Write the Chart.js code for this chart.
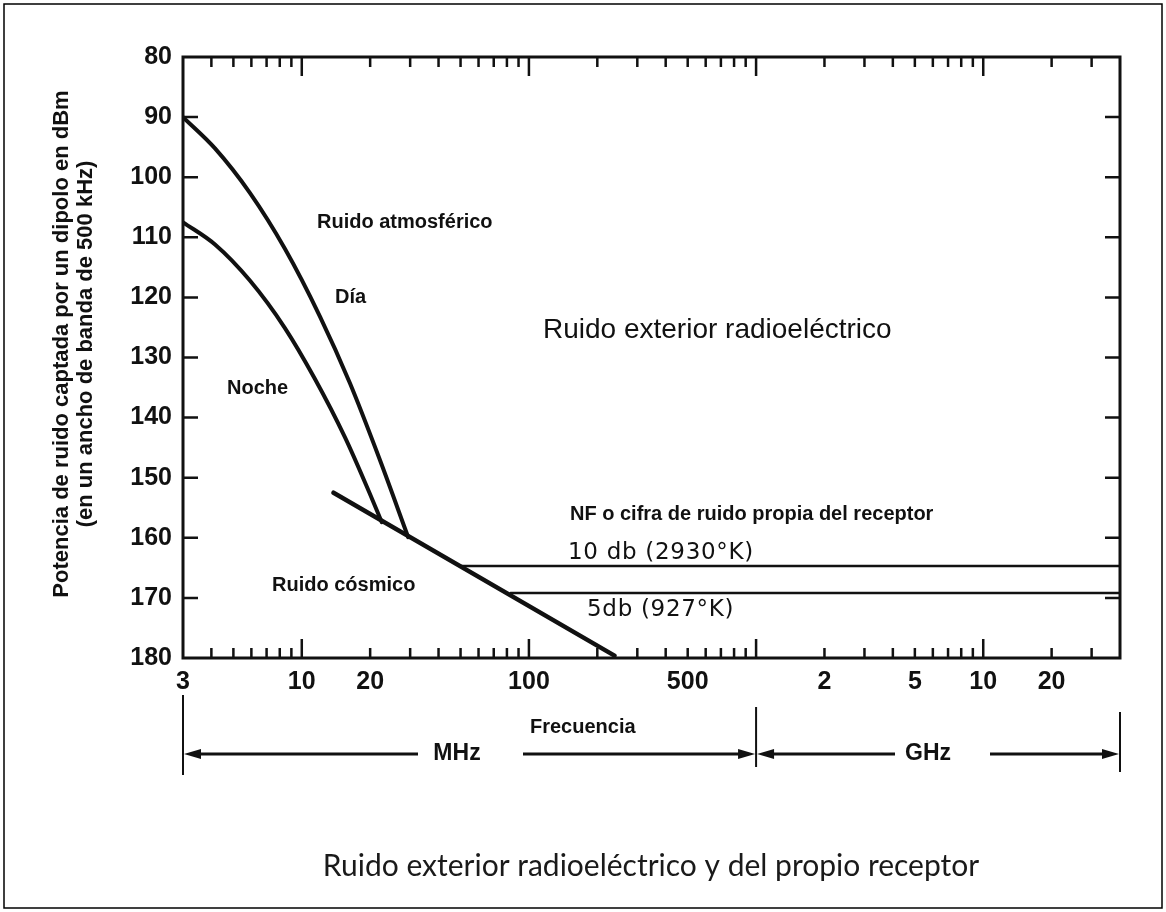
<!DOCTYPE html>
<html>
<head>
<meta charset="utf-8">
<script src="https://cdn.jsdelivr.net/npm/chart.js@4.4.1/dist/chart.umd.min.js"></script>
<style>
  html, body { margin: 0; padding: 0; background: #fff; }
  canvas { display: block; }
</style>
</head>
<body>
<canvas id="ruido" width="1166" height="912"></canvas>
<script>
// frecuencia en MHz, potencia en dBm (eje invertido)
const diaFreq = [3, 4.15, 5.91, 8.43, 12.0, 16.3, 22.0, 29.4];
const diaDbm = [90, 95.2, 102.6, 111.9, 123.1, 134.3, 146.9, 159.9];
const nocheFreq = [3, 4.15, 5.91, 8.43, 11.4, 15.5, 19.9, 22.5];
const nocheDbm = [107.5, 111.2, 117.2, 125.1, 133.5, 143.3, 152.6, 157.4];
const cosmicoFreq = [13.8, 238];
const cosmicoDbm = [152.5, 179.6];
const nf10Freq = [50.3, 40000];
const nf10Dbm = [164.7, 164.7];
const nf5Freq = [83, 40000];
const nf5Dbm = [169.2, 169.2];

const xTickValues = [3, 10, 20, 100, 500, 2000, 5000, 10000, 20000];
const xTickLabels = ['3', '10', '20', '100', '500', '2', '5', '10', '20'];
const xMajorMarks = [10, 100, 1000, 10000];
const xMinorMarks = [4, 5, 6, 7, 8, 9, 20, 30, 40, 50, 60, 70, 80, 90,
  200, 300, 400, 500, 600, 700, 800, 900,
  2000, 3000, 4000, 5000, 6000, 7000, 8000, 9000, 20000, 30000];
const yMarks = [90, 100, 110, 120, 130, 140, 150, 160, 170];

const INK = '#111';
const tickFont = "'Liberation Sans Narrow', 'Arial Narrow', 'Liberation Sans', Arial, sans-serif";

const pts = (xs, ys) => xs.map((x, i) => ({ x: x, y: ys[i] }));

function arrow(ctx, from, to, y) {
  const dir = Math.sign(to - from);
  ctx.beginPath();
  ctx.moveTo(from, y);
  ctx.lineTo(to - dir * 10, y);
  ctx.stroke();
  ctx.beginPath();
  ctx.moveTo(to, y);
  ctx.lineTo(to - dir * 17, y - 5);
  ctx.lineTo(to - dir * 17, y + 5);
  ctx.closePath();
  ctx.fill();
}

const decor = {
  id: 'decor',
  afterDraw(chart) {
    const ctx = chart.ctx;
    const a = chart.chartArea;
    const xs = chart.scales.x, ys = chart.scales.y;
    ctx.save();
    ctx.strokeStyle = INK;
    ctx.fillStyle = INK;

    // marco del gráfico
    ctx.lineWidth = 3;
    ctx.strokeRect(a.left, a.top, a.right - a.left, a.bottom - a.top);

    // marcas hacia dentro
    ctx.lineWidth = 2.5;
    ctx.beginPath();
    yMarks.forEach(v => {
      const y = ys.getPixelForValue(v);
      ctx.moveTo(a.left, y); ctx.lineTo(a.left + 15, y);
      ctx.moveTo(a.right, y); ctx.lineTo(a.right - 15, y);
    });
    const xm = (v, len) => {
      const x = xs.getPixelForValue(v);
      ctx.moveTo(x, a.bottom); ctx.lineTo(x, a.bottom - len);
      ctx.moveTo(x, a.top); ctx.lineTo(x, a.top + len);
    };
    xMajorMarks.forEach(v => xm(v, 19));
    xMinorMarks.forEach(v => xm(v, 10));
    ctx.stroke();

    // rótulos internos
    ctx.textBaseline = 'middle';
    ctx.textAlign = 'left';
    ctx.font = "bold 20px 'Liberation Sans', Arial, sans-serif";
    ctx.fillText('Ruido atmosférico', 317, 222);
    ctx.fillText('Día', 335, 297);
    ctx.fillText('Noche', 227, 388);
    ctx.fillText('Ruido cósmico', 272, 585);
    ctx.fillText('NF o cifra de ruido propia del receptor', 570, 514);
    ctx.font = "28px 'Liberation Sans', Arial, sans-serif";
    ctx.fillText('Ruido exterior radioeléctrico', 543, 330);
    ctx.font = "23px 'DejaVu Sans', sans-serif";
    ctx.letterSpacing = '0.7px';
    ctx.fillText('10 db (2930°K)', 568, 553);
    ctx.fillText('5db (927°K)', 587, 610);
    ctx.letterSpacing = '0px';

    // título del eje vertical
    ctx.save();
    ctx.translate(62, 344);
    ctx.rotate(-Math.PI / 2);
    ctx.textAlign = 'center';
    ctx.font = "bold 22px 'Liberation Sans', Arial, sans-serif";
    ctx.fillText('Potencia de ruido captada por un dipolo en dBm', 0, 0);
    ctx.fillText('(en un ancho de banda de 500 kHz)', 0, 24);
    ctx.restore();

    // bandas de frecuencia
    const x3 = xs.getPixelForValue(3);
    const xG = xs.getPixelForValue(1000);
    const xE = xs.getPixelForValue(40000);
    ctx.lineWidth = 2;
    ctx.beginPath();
    ctx.moveTo(x3, 695); ctx.lineTo(x3, 775);
    ctx.moveTo(xG, 707); ctx.lineTo(xG, 767);
    ctx.moveTo(xE, 712); ctx.lineTo(xE, 772);
    ctx.stroke();
    ctx.lineWidth = 3;
    const ay = 754;
    arrow(ctx, 418, x3 + 1, ay);
    arrow(ctx, 523, xG - 1, ay);
    arrow(ctx, 895, xG + 1, ay);
    arrow(ctx, 990, xE - 1, ay);
    ctx.textAlign = 'center';
    ctx.font = "bold 23px 'Liberation Sans', Arial, sans-serif";
    ctx.fillText('MHz', 457, ay);
    ctx.fillText('GHz', 928, ay);
    ctx.textAlign = 'left';
    ctx.font = "bold 20px 'Liberation Sans', Arial, sans-serif";
    ctx.fillText('Frecuencia', 530, 727);

    // pie
    ctx.textAlign = 'center';
    ctx.fillStyle = '#1a1a1a';
    ctx.font = "30px Lato, 'Open Sans', sans-serif";
    ctx.fillText('Ruido exterior radioeléctrico y del propio receptor', 651, 866);

    // borde exterior
    ctx.strokeStyle = '#000';
    ctx.lineWidth = 1.5;
    ctx.strokeRect(4, 4, 1158, 904);
    ctx.restore();
  }
};

const curve = (data, width, smooth) => ({
  data: data,
  borderColor: INK,
  borderWidth: width,
  pointRadius: 0,
  fill: false,
  cubicInterpolationMode: smooth ? 'monotone' : 'default',
  tension: 0,
  borderCapStyle: 'round'
});

new Chart(document.getElementById('ruido').getContext('2d'), {
  type: 'line',
  data: {
    datasets: [
      curve(pts(diaFreq, diaDbm), 4, true),
      curve(pts(nocheFreq, nocheDbm), 4, true),
      curve(pts(cosmicoFreq, cosmicoDbm), 4.5, false),
      curve(pts(nf10Freq, nf10Dbm), 2.5, false),
      curve(pts(nf5Freq, nf5Dbm), 2.5, false)
    ]
  },
  options: {
    responsive: false,
    animation: false,
    devicePixelRatio: 1,
    layout: { padding: { top: 57, right: 46, left: 0, bottom: 0 } },
    plugins: { legend: { display: false }, tooltip: { enabled: false } },
    scales: {
      x: {
        type: 'logarithmic',
        min: 3,
        max: 40000,
        afterBuildTicks: s => { s.ticks = xTickValues.map(v => ({ value: v })); },
        afterFit: s => { s.height = 254; },
        grid: { display: false, drawTicks: false },
        border: { display: false },
        ticks: {
          autoSkip: false,
          maxRotation: 0,
          padding: 9,
          color: INK,
          font: { family: tickFont, size: 25, weight: 'bold' },
          callback: (v, i) => xTickLabels[i]
        }
      },
      y: {
        type: 'linear',
        reverse: true,
        min: 80,
        max: 180,
        afterFit: s => { s.width = 183; },
        grid: { display: false, drawTicks: false },
        border: { display: false },
        ticks: {
          stepSize: 10,
          padding: 11,
          color: INK,
          font: { family: tickFont, size: 25, weight: 'bold' }
        }
      }
    }
  },
  plugins: [decor]
});
</script>
</body>
</html>
